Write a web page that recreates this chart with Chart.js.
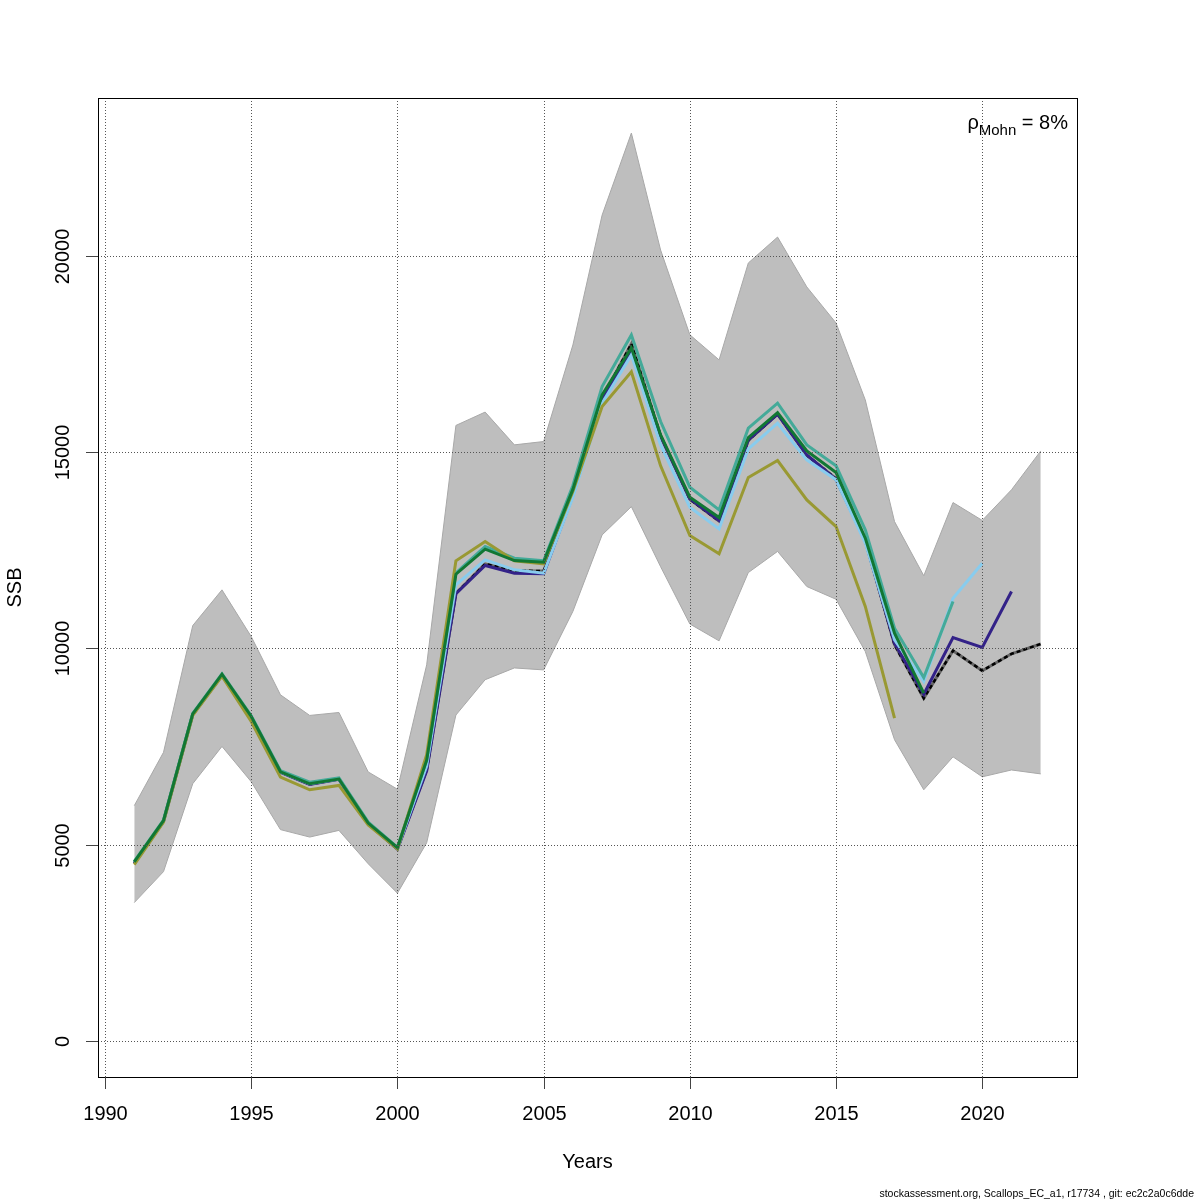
<!DOCTYPE html>
<html>
<head>
<meta charset="utf-8">
<script src="https://cdn.jsdelivr.net/npm/chart.js@4/dist/chart.umd.min.js"></script>
<style>
  html, body { margin: 0; padding: 0; background: #fff; }
  #wrap { width: 1200px; height: 1200px; }
</style>
</head>
<body>
<div id="wrap"><canvas id="ssb-chart" width="1200" height="1200"></canvas></div>
<script>
var years = [1991,1992,1993,1994,1995,1996,1997,1998,1999,2000,2001,2002,2003,2004,2005,2006,
             2007,2008,2009,2010,2011,2012,2013,2014,2015,2016,2017,2018,2019,2020,2021,2022];

// confidence band of the base run
var upperCI = [5990,7350,10580,11490,10300,8815,8290,8365,6850,6410,9580,15680,16020,15185,15270,17730,
               21040,23130,20150,17990,17350,19820,20480,19210,18290,16330,13230,11850,13715,13260,14040,15030];
var lowerCI = [3520,4310,6550,7500,6600,5380,5190,5360,4510,3760,5045,8300,9200,9500,9450,10940,
               12890,13610,12080,10620,10190,11930,12470,11575,11250,9920,7670,6395,7235,6725,6900,6800];

// base run and retro peels
var baseRun = [4530,5600,8320,9320,8240,6850,6540,6670,5540,4900,6900,11400,12150,11980,11970,13950,
               16370,17760,15420,13800,13240,15300,15970,14920,14320,12740,10090,8730,9940,9430,9860,10110];
var peel1 = [4520,5590,8310,9310,8230,6840,6530,6660,5530,4880,6880,11390,12110,11915,11900,13900,
             16330,17605,15400,13810,13257,15312,15966,14930,14300,12740,10130,8830,10275,10021,11448,null];
var peel2 = [4540,5600,8320,9320,8240,6850,6550,6670,5540,4900,7000,11620,12255,12000,11915,13850,
             16246,17478,15185,13597,13045,15083,15737,14803,14293,12680,10216,9155,11278,12170,null,null];
var peel3 = [4570,5620,8340,9350,8280,6880,6590,6700,5570,4930,7150,11920,12594,12297,12229,14150,
             16671,17987,15779,14106,13529,15610,16246,15185,14650,13019,10514,9257,11193,null,null,null];
var peel4 = [4560,5610,8330,9340,8263,6853,6548,6667,5546,4920,7150,11890,12526,12237,12196,14050,
             16459,17656,15439,13852,13333,15371,16008,15032,14479,12807,10386,8858,null,null,null,null];
var peel5 = [4490,5570,8290,9290,8136,6718,6395,6505,5500,4890,7290,12229,12721,12230,12153,14000,
             16161,17045,14650,12874,12408,14352,14785,13783,13104,11066,8221,null,null,null,null,null];

var xTicks = [1990,1995,2000,2005,2010,2015,2020];
var yTicks = [0,5000,10000,15000,20000];
var xTitle = 'Years';
var yTitle = 'SSB';
var footer = 'stockassessment.org, Scallops_EC_a1, r17734 , git: ec2c2a0c6dde';

var font = '"Liberation Sans", Arial, Helvetica, sans-serif';

function pts(arr) {
	var out = [];
	for (var i = 0; i < years.length; i++) {
		if (arr[i] !== null) out.push({x: years[i], y: arr[i]});
	}
	return out;
}

function line(arr, col, ord) {
	return {
		data: pts(arr),
		borderColor: col,
		borderWidth: 3,
		pointRadius: 0,
		fill: false,
		tension: 0,
		order: ord
	};
}

// R style frame, dotted grid, outward ticks, labels
var rAxes = {
	id: 'rAxes',
	afterDatasetsDraw: function(chart) {
		var c = chart.ctx, a = chart.chartArea;
		var sx = chart.scales.x, sy = chart.scales.y;
		c.save();
		c.strokeStyle = '#555';
		c.lineWidth = 1;
		c.setLineDash([1, 2]);
		xTicks.forEach(function(t) {
			var px = Math.round(sx.getPixelForValue(t)) + 0.5;
			c.beginPath(); c.moveTo(px, a.top); c.lineTo(px, a.bottom); c.stroke();
		});
		yTicks.forEach(function(t) {
			var py = Math.round(sy.getPixelForValue(t)) + 0.5;
			c.beginPath(); c.moveTo(a.left, py); c.lineTo(a.right, py); c.stroke();
		});
		c.restore();
	},
	afterDraw: function(chart) {
		var c = chart.ctx, a = chart.chartArea;
		var sx = chart.scales.x, sy = chart.scales.y;
		c.save();
		c.strokeStyle = '#000';
		c.lineWidth = 1;
		c.strokeRect(Math.round(a.left) + 0.5, Math.round(a.top) + 0.5, Math.round(a.right - a.left), Math.round(a.bottom - a.top));

		c.fillStyle = '#000';
		c.font = '20px ' + font;
		c.strokeStyle = '#444';
		xTicks.forEach(function(t) {
			var px = Math.round(sx.getPixelForValue(t)) + 0.5;
			c.beginPath(); c.moveTo(px, a.bottom); c.lineTo(px, a.bottom + 12); c.stroke();
			c.textAlign = 'center'; c.textBaseline = 'middle';
			c.fillText(String(t), px, a.bottom + 37);
		});
		yTicks.forEach(function(t) {
			var py = Math.round(sy.getPixelForValue(t)) + 0.5;
			c.beginPath(); c.moveTo(a.left, py); c.lineTo(a.left - 12, py); c.stroke();
			c.save();
			c.translate(a.left - 35, py);
			c.rotate(-Math.PI / 2);
			c.textAlign = 'center'; c.textBaseline = 'middle';
			c.fillText(String(t), 0, 0);
			c.restore();
		});

		// axis titles
		c.textAlign = 'center'; c.textBaseline = 'middle';
		c.fillText(xTitle, (a.left + a.right) / 2, a.bottom + 85);
		c.save();
		c.translate(15, (a.top + a.bottom) / 2);
		c.rotate(-Math.PI / 2);
		c.fillText(yTitle, 0, 0);
		c.restore();

		// rho Mohn label
		c.textBaseline = 'alphabetic';
		c.textAlign = 'left';
		var big = '20px ' + font, small = '15px ' + font;
		c.font = big; var w1 = c.measureText('\u03C1').width;
		c.font = small; var w2 = c.measureText('Mohn').width;
		c.font = big; var w3 = c.measureText(' = 8%').width;
		var x0 = a.right - 9 - (w1 + w2 + w3), base = 129;
		c.font = big; c.fillText('\u03C1', x0, base);
		c.font = small; c.fillText('Mohn', x0 + w1, base + 6);
		c.font = big; c.fillText(' = 8%', x0 + w1 + w2, base);

		// footer
		c.font = '10.5px ' + font;
		c.textAlign = 'right';
		c.textBaseline = 'middle';
		c.fillText(footer, 1194, 1194);
		c.restore();
	}
};

var ctx = document.getElementById('ssb-chart');

var ssbChart = new Chart(ctx, {
	type: 'line',
	data: {
		datasets: [
			{
				data: pts(upperCI),
				borderColor: '#a8a8a8',
				borderWidth: 1,
				backgroundColor: '#BEBEBE',
				pointRadius: 0,
				fill: '+1',
				tension: 0,
				order: 20
			},
			{
				data: pts(lowerCI),
				borderColor: '#a8a8a8',
				borderWidth: 1,
				pointRadius: 0,
				fill: false,
				tension: 0,
				order: 19
			},
			line(baseRun, '#666666', 12),
			{
				data: pts(baseRun),
				borderColor: '#000000',
				borderWidth: 2.5,
				borderDash: [4, 3],
				pointRadius: 0,
				fill: false,
				tension: 0,
				order: 11
			},
			line(peel1, '#332288', 10),
			line(peel2, '#88CCEE', 9),
			line(peel3, '#44AA99', 8),
			line(peel5, '#999933', 7),
			line(peel4, '#117733', 6)
		]
	},
	options: {
		responsive: false,
		animation: false,
		layout: { padding: { left: 98, top: 98, right: 123, bottom: 123 } },
		plugins: {
			legend: { display: false },
			tooltip: { enabled: false }
		},
		scales: {
			x: { type: 'linear', min: 1989.76, max: 2023.24, display: false },
			y: { type: 'linear', min: -924, max: 24024, display: false }
		}
	},
	plugins: [rAxes]
});
</script>
</body>
</html>
